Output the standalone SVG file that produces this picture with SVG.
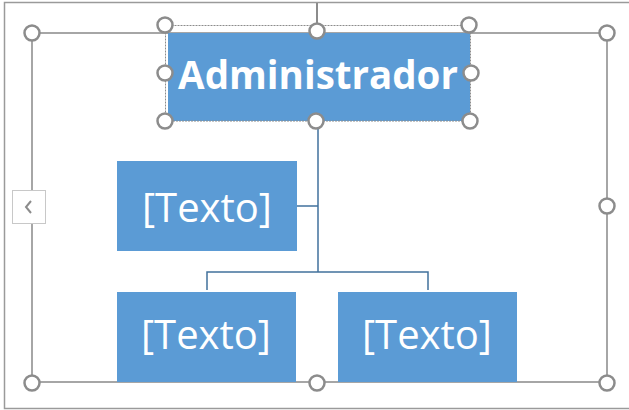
<svg xmlns="http://www.w3.org/2000/svg" width="629" height="410" viewBox="0 0 629 410">
<style>
.node{fill:#5b9bd5;}
.lbl{fill:#ffffff;font-family:"Open Sans","Noto Sans",sans-serif;font-size:40px;text-anchor:middle;}
.bold{font-weight:bold;font-size:38.5px;}
.conn{stroke:#41719c;stroke-width:1.5;fill:none;}
.frame{stroke:#a6a6a6;stroke-width:2;fill:none;}
.h{fill:#ffffff;stroke:#8c8c8c;stroke-width:2.5;}
.sel{stroke:#8c8c8c;stroke-width:1;fill:none;stroke-dasharray:2 1;}
</style>
<rect x="0" y="0" width="629" height="410" fill="#ffffff"/>
<rect x="4.5" y="2.5" width="630" height="406" fill="none" stroke="#9a9a9a" stroke-width="1.5"/>
<rect class="frame" x="32" y="33" width="575" height="349"/>
<g id="connectors">
<path class="conn" d="M318 122 V272"/>
<path class="conn" d="M297 206 H318"/>
<path class="conn" d="M207 290 V272 H428 V290"/>
</g>
<g id="admin">
<rect class="node" x="168" y="33" width="302" height="88"/>
<text class="lbl bold" x="318" y="89">Administrador</text>
</g>
<g id="assistant">
<rect class="node" x="117" y="161" width="180" height="90"/>
<text class="lbl" x="207" y="222">[Texto]</text>
</g>
<g id="child1">
<rect class="node" x="117" y="292" width="179" height="90"/>
<text class="lbl" x="206" y="349">[Texto]</text>
</g>
<g id="child2">
<rect class="node" x="338" y="292" width="179" height="90"/>
<text class="lbl" x="427" y="349">[Texto]</text>
</g>
<g id="selection">
<line x1="317" y1="3" x2="317" y2="26" stroke="#8c8c8c" stroke-width="2"/>
<rect class="sel" x="165.5" y="25.5" width="305" height="95.5"/>
<circle class="h" cx="165" cy="25" r="7.5"/>
<circle class="h" cx="469" cy="25" r="7.5"/>
<circle class="h" cx="165" cy="73" r="7.5"/>
<circle class="h" cx="471" cy="73" r="7.5"/>
<circle class="h" cx="165" cy="121" r="7.5"/>
<circle class="h" cx="316" cy="121" r="7.5"/>
<circle class="h" cx="470" cy="121" r="7.5"/>
<circle class="h" cx="317" cy="31" r="7.5"/>
<circle class="h" cx="32" cy="33" r="7.5"/>
<circle class="h" cx="607" cy="33" r="7.5"/>
<circle class="h" cx="607" cy="206" r="7.5"/>
<circle class="h" cx="32" cy="383" r="7.5"/>
<circle class="h" cx="317" cy="383" r="7.5"/>
<circle class="h" cx="607" cy="383" r="7.5"/>
<rect x="12.5" y="190.5" width="33" height="33" fill="#ffffff" stroke="#c8c8c8" stroke-width="1"/>
<polyline points="31,201 26,207 31,213" fill="none" stroke="#8c8c8c" stroke-width="2"/>
</g>
</svg>
